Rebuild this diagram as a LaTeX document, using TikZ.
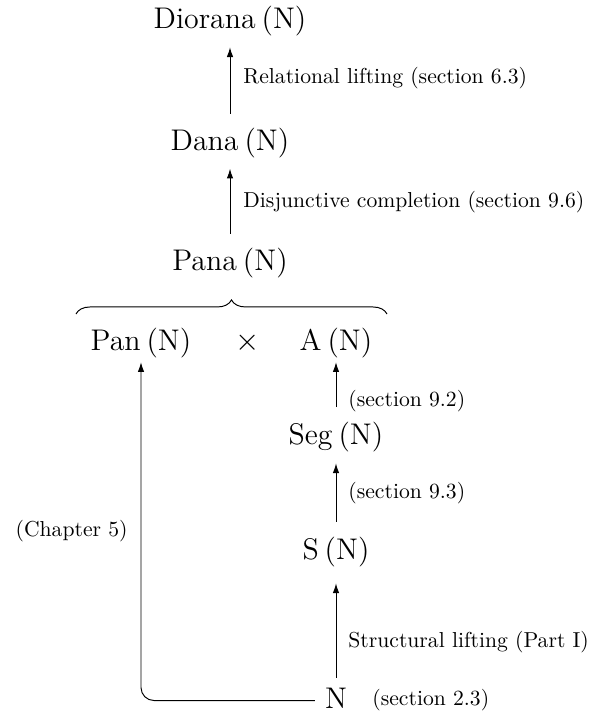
\documentclass[tikz,border=0pt]{standalone}
\usetikzlibrary{decorations.pathreplacing,arrows.meta}
\begin{document}
\begin{tikzpicture}[x=0.462pt,y=-0.462pt,
  big/.style={font=\fontsize{13.8}{16}\selectfont, inner sep=0pt, anchor=base, text height=10.35pt, text depth=3.45pt},
  lab/.style={font=\fontsize{10}{12}\selectfont, inner sep=0pt, anchor=west},
  arr/.style={-{Latex[length=4.5pt,width=3pt]}, line width=0.45pt}]
\useasboundingbox (0,0) rectangle (597,715);
% main nodes
\node[big] (dio)  at (230,29)  {Diorana\hspace{0.2em}(N)};
\node[big] (dana) at (230,150) {Dana\hspace{0.2em}(N)};
\node[big] (pana) at (230,270) {Pana\hspace{0.2em}(N)};
\node[big] (pan)  at (141,350) {Pan\hspace{0.2em}(N)};
\node[big] (tim)  at (248,350) {$\times$};
\node[big] (a)    at (336,350) {A\hspace{0.2em}(N)};
\node[big] (seg)  at (336,444) {Seg\hspace{0.2em}(N)};
\node[big] (s)    at (336,559) {S\hspace{0.2em}(N)};
\node[big] (n)    at (336,708) {N};
% labels
\node[lab] (l1) at (243,78)  {Relational lifting (section 6.3)};
\node[lab] (l2) at (243,202) {Disjunctive completion (section 9.6)};
\node[lab] (l3) at (348,401) {(section 9.2)};
\node[lab] (l4) at (348,493) {(section 9.3)};
\node[lab] (l5) at (348,642) {Structural lifting (Part I)};
\node[lab] (l6) at (372,700) {(section 2.3)};
\node[lab, anchor=east] (l7) at (128,531) {(Chapter 5)};
% brace
\coordinate (bl) at (76,314);
\coordinate (br) at (387,314);
\draw[decorate, decoration={brace, amplitude=6.5pt}, line width=0.45pt] (bl) -- (br);
% arrows
\draw[arr, shorten <=6.3pt, shorten >=4.8pt] (dana.north) -- (dio.south);
\draw[arr, shorten <=6.3pt, shorten >=5pt] (pana.north) -- (dana.south);
\draw[arr, shorten <=6.5pt, shorten >=2pt] (seg.north) -- (a.south);
\draw[arr, shorten <=6.7pt, shorten >=5.3pt] (s.north) -- (seg.south);
\draw[arr, shorten <=3.5pt, shorten >=7.6pt] (n.north) -- (s.south);
\draw[arr, rounded corners=6pt, shorten <=4.5pt, shorten >=2pt] (n.west) -| (pan.south);
\end{tikzpicture}
\end{document}
